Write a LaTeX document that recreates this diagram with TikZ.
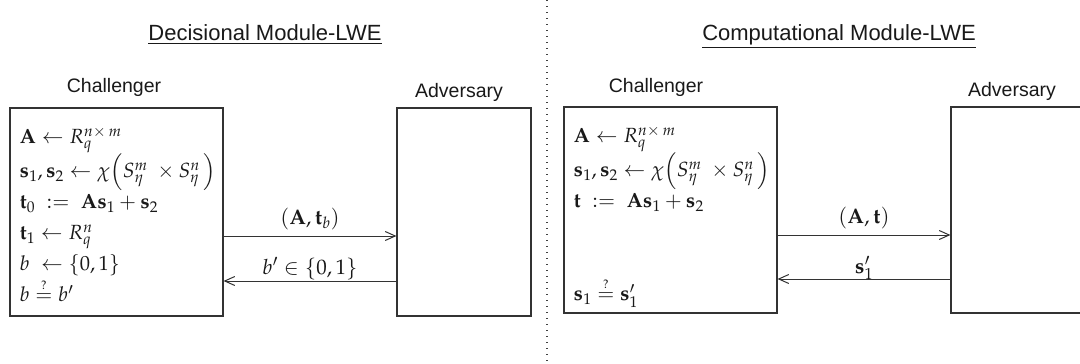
\documentclass[tikz,border=0pt]{standalone}
\usepackage{amsmath}
\usepackage{mathpazo}
\usepackage[no-math]{fontspec}
\setmainfont{Liberation Sans}
\usetikzlibrary{positioning, arrows.meta}
\definecolor{linegray}{HTML}{333333}
\newcommand{\chk}{\mathrel{\overset{\scriptscriptstyle ?}{=}}}

\begin{document}
\begin{tikzpicture}[
      x=1pt, y=-1pt,
      every node/.style={text=black!90},
      title/.style={font=\fontsize{22}{26}\selectfont, anchor=base},
      role/.style={font=\fontsize{19.5}{22}\selectfont, anchor=base},
      party/.style={draw=linegray, line width=1.1pt, inner sep=0pt},
      steps/.style={align=left, anchor=north west, inner sep=0pt,
                    font=\fontsize{20.5}{31}\selectfont},
      msg/.style={font=\fontsize{21}{24}\selectfont, anchor=base},
      send/.style={draw=linegray, line width=1pt,
                   -{Straight Barb[length=10pt, width=9pt]}},
      divider/.style={draw=black!75, line width=1.3pt,
                      dash pattern=on 1.3pt off 4.7pt},
    ]
    \path[use as bounding box, fill=white] (0,0) rectangle (1080,364);

    % decisional game
    \node[title] (titleD) at (265,40) {\underline{Decisional Module-LWE}};
    \node[role] (roleChalD) at (114,92) {Challenger};
    \node[role] (roleAdvD) at (459,97) {Adversary};
    \node[party, minimum width=213pt, minimum height=208pt] (chalD) at (116.5,212) {};
    \node[party, minimum width=134pt, minimum height=208pt] (advD) at (464,212) {};
    \node[steps, below right=19pt and 10pt of chalD.north west] (stepsD)
      {$\mathbf{A} \leftarrow R_q^{n\times\, m}$\\
       $\mathbf{s}_1, \mathbf{s}_2 \leftarrow \chi\!\left(S_\eta^m\ \times S_\eta^n\,\right)$\\
       $\mathbf{t}_0\ :=\ \mathbf{A}\mathbf{s}_1 + \mathbf{s}_2$\\
       $\mathbf{t}_1 \leftarrow R_q^n$\\
       $b\ \leftarrow \{0,1\}$\\
       $b \chk b'$};
    \draw[send] ([yshift=-24pt]chalD.east) -- ([yshift=-24pt]advD.west)
      node[msg, midway, yshift=12pt] {$(\mathbf{A}, \mathbf{t}_b)$};
    \draw[send] ([yshift=-69pt]advD.west) -- ([yshift=-69pt]chalD.east)
      node[msg, midway, yshift=7pt] {$b' \in \{0,1\}$};

    \draw[divider] (547,0) -- (547,364);

    % computational game
    \node[title] (titleC) at (839,40) {\underline{Computational Module-LWE}};
    \node[role] (roleChalC) at (656,92) {Challenger};
    \node[role] (roleAdvC) at (1012,96) {Adversary};
    \node[party, minimum width=213pt, minimum height=206pt] (chalC) at (670.5,210) {};
    \node[party, minimum width=134pt, minimum height=206pt] (advC) at (1018,210) {};
    \node[steps, below right=19pt and 10pt of chalC.north west] (stepsC)
      {$\mathbf{A} \leftarrow R_q^{n\times\, m}$\\
       $\mathbf{s}_1, \mathbf{s}_2 \leftarrow \chi\!\left(S_\eta^m\ \times S_\eta^n\,\right)$\\
       $\mathbf{t}\ :=\ \mathbf{A}\mathbf{s}_1 + \mathbf{s}_2$\\[62pt]
       $\mathbf{s}_1 \chk \mathbf{s}_1'$};
    \draw[send] ([yshift=-25pt]chalC.east) -- ([yshift=-25pt]advC.west)
      node[msg, midway, yshift=12pt] {$(\mathbf{A}, \mathbf{t})$};
    \draw[send] ([yshift=-69pt]advC.west) -- ([yshift=-69pt]chalC.east)
      node[msg, midway, yshift=6pt] {$\mathbf{s}_1'$};
  \end{tikzpicture}
\end{document}
